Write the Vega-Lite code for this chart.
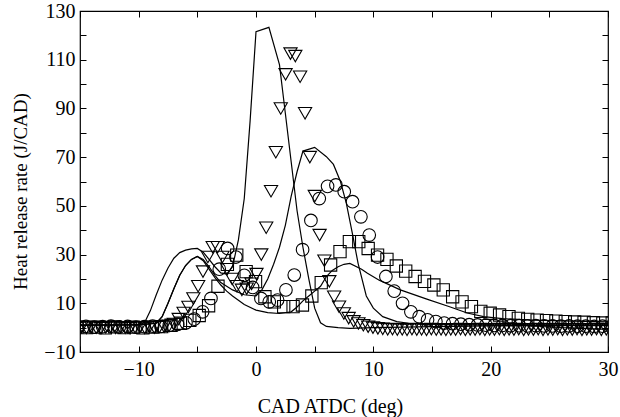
{
  "$schema": "https://vega.github.io/schema/vega-lite/v6.json",
  "width": 528,
  "height": 341,
  "autosize": {"type": "none"},
  "padding": {"left": 80, "top": 11, "right": 12, "bottom": 65},
  "background": "white",
  "config": {
    "view": {"stroke": "#000", "strokeWidth": 1.2},
    "font": "Liberation Serif",
    "axis": {
      "labelFont": "Liberation Serif", "titleFont": "Liberation Serif",
      "labelFontSize": 20, "titleFontSize": 20, "titleFontWeight": "normal",
      "labelColor": "#000", "titleColor": "#000", "tickColor": "#000", "tickWidth": 1,
      "grid": false, "domain": false, "labelFlush": false, "labelOverlap": false, "labelBound": false
    }
  },
  "datasets": {
    "lines": [
      {"s":"a","x":-15,"y":1.0},{"s":"a","x":-12,"y":1.1},{"s":"a","x":-10,"y":1.2},{"s":"a","x":-9.5,"y":2},{"s":"a","x":-9,"y":7},{"s":"a","x":-8.5,"y":13.5},{"s":"a","x":-8,"y":19.5},{"s":"a","x":-7.5,"y":24.5},{"s":"a","x":-7,"y":28.5},{"s":"a","x":-6.5,"y":30.8},{"s":"a","x":-6,"y":31.8},{"s":"a","x":-5.5,"y":32.3},{"s":"a","x":-5,"y":32.5},{"s":"a","x":-4.5,"y":31},{"s":"a","x":-4,"y":28},{"s":"a","x":-3.5,"y":25},{"s":"a","x":-3,"y":22.5},{"s":"a","x":-2.5,"y":22},{"s":"a","x":-2,"y":25},{"s":"a","x":-1.5,"y":36},{"s":"a","x":-1,"y":53},{"s":"a","x":-0.5,"y":85},{"s":"a","x":0,"y":121.5},{"s":"a","x":1.1,"y":123.3},{"s":"a","x":2,"y":108},{"s":"a","x":2.5,"y":88},{"s":"a","x":3,"y":68},{"s":"a","x":3.5,"y":48},{"s":"a","x":4,"y":33},{"s":"a","x":4.5,"y":20},{"s":"a","x":5,"y":8},{"s":"a","x":5.5,"y":2},{"s":"a","x":6,"y":0.5},{"s":"a","x":7,"y":0},{"s":"a","x":8,"y":-0.3},{"s":"a","x":10,"y":0},{"s":"a","x":15,"y":0.4},{"s":"a","x":20,"y":0.7},{"s":"a","x":30,"y":1.0},
      {"s":"b","x":-15,"y":1.0},{"s":"b","x":-10,"y":1.1},{"s":"b","x":-8.5,"y":1.8},{"s":"b","x":-8,"y":4.5},{"s":"b","x":-7.5,"y":10},{"s":"b","x":-7,"y":16},{"s":"b","x":-6.5,"y":21.5},{"s":"b","x":-6,"y":25.5},{"s":"b","x":-5.5,"y":28},{"s":"b","x":-5,"y":29.2},{"s":"b","x":-4.5,"y":28},{"s":"b","x":-4,"y":25},{"s":"b","x":-3.5,"y":21.5},{"s":"b","x":-3,"y":18.5},{"s":"b","x":-2,"y":15.5},{"s":"b","x":-1,"y":13.5},{"s":"b","x":0,"y":13},{"s":"b","x":0.5,"y":15.5},{"s":"b","x":1,"y":20},{"s":"b","x":1.5,"y":26},{"s":"b","x":2,"y":33},{"s":"b","x":2.5,"y":42},{"s":"b","x":3,"y":54},{"s":"b","x":3.5,"y":64},{"s":"b","x":4,"y":72.5},{"s":"b","x":5,"y":74},{"s":"b","x":6,"y":70.2},{"s":"b","x":6.6,"y":67},{"s":"b","x":7.2,"y":60},{"s":"b","x":7.7,"y":51},{"s":"b","x":8.2,"y":39},{"s":"b","x":8.7,"y":26.4},{"s":"b","x":9.4,"y":13},{"s":"b","x":10,"y":8},{"s":"b","x":10.8,"y":4.5},{"s":"b","x":12,"y":2.5},{"s":"b","x":13,"y":1.8},{"s":"b","x":15,"y":1.3},{"s":"b","x":20,"y":1.0},{"s":"b","x":30,"y":0.8},
      {"s":"c","x":-15,"y":1.0},{"s":"c","x":-10,"y":1.1},{"s":"c","x":-8.5,"y":1.8},{"s":"c","x":-8,"y":4.5},{"s":"c","x":-7.5,"y":10},{"s":"c","x":-7,"y":16},{"s":"c","x":-6.5,"y":21.5},{"s":"c","x":-6,"y":25.5},{"s":"c","x":-5.5,"y":28},{"s":"c","x":-5,"y":29.2},{"s":"c","x":-4.5,"y":27.5},{"s":"c","x":-4,"y":24},{"s":"c","x":-3.5,"y":20.5},{"s":"c","x":-3,"y":17.5},{"s":"c","x":-2.5,"y":15},{"s":"c","x":-2,"y":13},{"s":"c","x":-1,"y":9.5},{"s":"c","x":0,"y":7.2},{"s":"c","x":1,"y":6.2},{"s":"c","x":2,"y":5.8},{"s":"c","x":3,"y":6.5},{"s":"c","x":3.5,"y":8.5},{"s":"c","x":4,"y":11},{"s":"c","x":4.5,"y":13},{"s":"c","x":5,"y":15},{"s":"c","x":5.5,"y":17},{"s":"c","x":6,"y":21},{"s":"c","x":6.5,"y":23.5},{"s":"c","x":7,"y":25},{"s":"c","x":7.5,"y":26},{"s":"c","x":8,"y":26.4},{"s":"c","x":9,"y":24},{"s":"c","x":9.5,"y":22.3},{"s":"c","x":10.5,"y":19.5},{"s":"c","x":12.3,"y":15.5},{"s":"c","x":14.5,"y":11.8},{"s":"c","x":16.5,"y":8.6},{"s":"c","x":18,"y":6},{"s":"c","x":19.4,"y":4.5},{"s":"c","x":21,"y":3.7},{"s":"c","x":23.6,"y":3.1},{"s":"c","x":27,"y":2.7},{"s":"c","x":30,"y":2.4}
    ],
    "tri": [
      {"x":-14.87,"y":0.2},{"x":-14.45,"y":-0.1},{"x":-14.04,"y":0.3},{"x":-13.62,"y":0},{"x":-13.21,"y":-0.2},{"x":-12.8,"y":0.1},{"x":-12.38,"y":0.3},{"x":-11.97,"y":-0.1},{"x":-11.55,"y":0.2},{"x":-11.14,"y":0},{"x":-10.73,"y":-0.2},{"x":-10.31,"y":0.2},{"x":-9.9,"y":0.1},{"x":-9.48,"y":-0.1},{"x":-9.07,"y":0.3},{"x":-8.66,"y":0},{"x":-8.24,"y":0.2},{"x":-7.83,"y":0.4},{"x":-7.41,"y":0.8},{"x":-7.0,"y":1.5},{"x":-6.59,"y":3.5},{"x":-6.17,"y":6},{"x":-5.76,"y":8.5},{"x":-5.34,"y":12},{"x":-4.93,"y":17},{"x":-4.52,"y":23},{"x":-4.1,"y":29},{"x":-3.69,"y":33},{"x":-3.27,"y":33},{"x":-2.86,"y":29},{"x":-2.45,"y":24},{"x":-2.03,"y":20},{"x":-1.62,"y":17},{"x":-1.2,"y":15.5},{"x":-0.79,"y":16},{"x":-0.38,"y":18},{"x":0.04,"y":22},{"x":0.45,"y":30},{"x":0.87,"y":41},{"x":1.28,"y":56},{"x":1.69,"y":72},{"x":2.11,"y":90},{"x":2.52,"y":104},{"x":2.94,"y":112.5},{"x":3.35,"y":111.5},{"x":3.76,"y":103},{"x":4.18,"y":88},{"x":4.59,"y":70},{"x":5.01,"y":54},{"x":5.42,"y":38},{"x":5.83,"y":27.5},{"x":6.25,"y":19},{"x":6.66,"y":12.7},{"x":7.08,"y":8.6},{"x":7.49,"y":5.8},{"x":7.9,"y":3.9},{"x":8.32,"y":2.6},{"x":8.73,"y":1.7},{"x":9.15,"y":1.0},{"x":9.56,"y":0.4},{"x":9.97,"y":0},{"x":10.39,"y":-0.3},{"x":10.8,"y":-0.5},{"x":11.22,"y":-0.7},{"x":11.63,"y":-0.6},{"x":12.04,"y":-0.8},{"x":12.46,"y":-0.7},{"x":12.87,"y":-0.9},{"x":13.29,"y":-0.6},{"x":13.7,"y":-0.8},{"x":14.11,"y":-0.7},{"x":14.53,"y":-0.9},{"x":14.94,"y":-0.6},{"x":15.36,"y":-0.8},{"x":15.77,"y":-0.7},{"x":16.18,"y":-0.9},{"x":16.6,"y":-0.7},{"x":17.01,"y":-0.8},{"x":17.43,"y":-0.6},{"x":17.84,"y":-0.9},{"x":18.25,"y":-0.7},{"x":18.67,"y":-0.8},{"x":19.08,"y":-0.6},{"x":19.5,"y":-0.9},{"x":19.91,"y":-0.7},{"x":20.32,"y":-0.8},{"x":20.74,"y":-0.6},{"x":21.15,"y":-0.9},{"x":21.57,"y":-0.7},{"x":21.98,"y":-0.8},{"x":22.39,"y":-0.6},{"x":22.81,"y":-0.9},{"x":23.22,"y":-0.7},{"x":23.64,"y":-0.8},{"x":24.05,"y":-0.6},{"x":24.46,"y":-0.9},{"x":24.88,"y":-0.7},{"x":25.29,"y":-0.8},{"x":25.71,"y":-0.6},{"x":26.12,"y":-0.9},{"x":26.53,"y":-0.7},{"x":26.95,"y":-0.8},{"x":27.36,"y":-0.6},{"x":27.78,"y":-0.9},{"x":28.19,"y":-0.7},{"x":28.6,"y":-0.8},{"x":29.02,"y":-0.6},{"x":29.43,"y":-0.9},{"x":29.85,"y":-0.7}
    ],
    "cir": [
      {"x":-15.2,"y":0.3},{"x":-14.49,"y":0.5},{"x":-13.78,"y":0.2},{"x":-13.07,"y":0.4},{"x":-12.36,"y":0.6},{"x":-11.65,"y":0.3},{"x":-10.94,"y":0.5},{"x":-10.23,"y":0.2},{"x":-9.52,"y":0.4},{"x":-8.81,"y":0.6},{"x":-8.1,"y":0.5},{"x":-7.39,"y":0.9},{"x":-6.68,"y":1.3},{"x":-5.97,"y":2},{"x":-5.26,"y":3.5},{"x":-4.55,"y":6.5},{"x":-3.84,"y":12},{"x":-3.13,"y":24},{"x":-2.42,"y":32.5},{"x":-1.71,"y":29},{"x":-1.0,"y":21.5},{"x":-0.29,"y":16.5},{"x":0.42,"y":12},{"x":1.13,"y":10.6},{"x":1.84,"y":11.3},{"x":2.55,"y":15.5},{"x":3.26,"y":21.6},{"x":3.97,"y":32},{"x":4.68,"y":44},{"x":5.39,"y":53},{"x":6.1,"y":58},{"x":6.81,"y":58.6},{"x":7.52,"y":55.8},{"x":8.23,"y":51.7},{"x":8.94,"y":45.5},{"x":9.65,"y":38},{"x":10.36,"y":29},{"x":11.07,"y":21},{"x":11.78,"y":15},{"x":12.49,"y":10},{"x":13.2,"y":6.5},{"x":13.91,"y":4.5},{"x":14.62,"y":3.2},{"x":15.33,"y":2.5},{"x":16.04,"y":1.9},{"x":16.75,"y":1.6},{"x":17.46,"y":1.4},{"x":18.17,"y":1.2},{"x":18.88,"y":1.1},{"x":19.59,"y":1.0},{"x":20.3,"y":0.9},{"x":21.01,"y":0.9},{"x":21.72,"y":0.8},{"x":22.43,"y":0.8},{"x":23.14,"y":0.7},{"x":23.85,"y":0.8},{"x":24.56,"y":0.7},{"x":25.27,"y":0.7},{"x":25.98,"y":0.6},{"x":26.69,"y":0.7},{"x":27.4,"y":0.6},{"x":28.11,"y":0.6},{"x":28.82,"y":0.5},{"x":29.53,"y":0.6},{"x":30.24,"y":0.5}
    ],
    "sq": [
      {"x":-15.24,"y":0.3},{"x":-14.44,"y":0},{"x":-13.64,"y":0.2},{"x":-12.84,"y":-0.1},{"x":-12.04,"y":0.3},{"x":-11.24,"y":0},{"x":-10.44,"y":0.2},{"x":-9.64,"y":-0.1},{"x":-8.84,"y":0.2},{"x":-8.04,"y":0.4},{"x":-7.24,"y":1},{"x":-6.44,"y":1.8},{"x":-5.64,"y":3},{"x":-4.84,"y":5},{"x":-4.04,"y":9},{"x":-3.24,"y":17},{"x":-2.44,"y":26},{"x":-1.64,"y":29.8},{"x":-0.84,"y":23},{"x":-0.04,"y":18.9},{"x":0.76,"y":12.7},{"x":1.56,"y":10.6},{"x":2.36,"y":8.6},{"x":3.16,"y":8.6},{"x":3.96,"y":9.3},{"x":4.76,"y":13},{"x":5.56,"y":18.5},{"x":6.36,"y":25.7},{"x":7.16,"y":31.2},{"x":7.96,"y":35.3},{"x":8.76,"y":35.3},{"x":9.56,"y":32.5},{"x":10.36,"y":29.8},{"x":11.16,"y":28},{"x":11.96,"y":25.3},{"x":12.76,"y":23.2},{"x":13.56,"y":21},{"x":14.36,"y":19},{"x":15.16,"y":17.5},{"x":15.96,"y":15.5},{"x":16.76,"y":12.7},{"x":17.56,"y":10.6},{"x":18.36,"y":8.6},{"x":19.16,"y":6.7},{"x":19.96,"y":5.9},{"x":20.76,"y":5.2},{"x":21.56,"y":4.5},{"x":22.36,"y":3.8},{"x":23.16,"y":3.4},{"x":23.96,"y":3.1},{"x":24.76,"y":2.9},{"x":25.56,"y":2.7},{"x":26.36,"y":2.5},{"x":27.16,"y":2.3},{"x":27.96,"y":2.2},{"x":28.76,"y":2.0},{"x":29.56,"y":1.9},{"x":30.36,"y":1.9}
    ]
  },
  "layer": [
    {
      "data": {"name": "lines"},
      "mark": {"type": "line", "color": "#000", "strokeWidth": 1.2, "clip": true},
      "encoding": {
        "detail": {"field": "s", "type": "nominal"},
        "x": {"field": "x", "type": "quantitative",
          "scale": {"domain": [-15, 30], "nice": false, "zero": false},
          "axis": {"orient": "bottom", "values": [-15,-10,-5,0,5,10,15,20,25,30],
            "labelExpr": "datum.value % 10 == 0 ? datum.label : ''",
            "tickSize": -6, "labelPadding": 13,
            "title": "CAD ATDC (deg)", "titleX": 250, "titleY": 60, "titleBaseline": "alphabetic", "titleAlign": "center"}},
        "y": {"field": "y", "type": "quantitative",
          "scale": {"domain": [-10, 130], "nice": false, "zero": false},
          "axis": {"orient": "left", "values": [-10,0,10,20,30,40,50,60,70,80,90,100,110,120,130],
            "labelExpr": "(datum.value + 10) % 20 == 0 ? datum.label : ''",
            "tickSize": -6, "labelPadding": 11,
            "title": "Heat release rate (J/CAD)", "titleFontSize": 19, "titleX": -60, "titleY": 180, "titleAngle": -90, "titleBaseline": "middle", "titleAlign": "center"}}
      }
    },
    {
      "data": {"name": "tri"},
      "mark": {"type": "point", "shape": "triangle-down", "filled": false, "stroke": "#000", "strokeWidth": 1.1, "size": 175, "opacity": 1, "clip": true},
      "encoding": {
        "x": {"field": "x", "type": "quantitative",
          "axis": {"orient": "top", "values": [-15,-10,-5,0,5,10,15,20,25,30], "labels": false, "tickSize": -6, "title": null}},
        "y": {"field": "y", "type": "quantitative",
          "axis": {"orient": "right", "values": [-10,0,10,20,30,40,50,60,70,80,90,100,110,120,130], "labels": false, "tickSize": -6, "title": null}}
      }
    },
    {
      "data": {"name": "cir"},
      "mark": {"type": "point", "shape": "circle", "filled": false, "stroke": "#000", "strokeWidth": 1.1, "size": 160, "opacity": 1, "clip": true},
      "encoding": {
        "x": {"field": "x", "type": "quantitative", "axis": null},
        "y": {"field": "y", "type": "quantitative", "axis": null}
      }
    },
    {
      "data": {"name": "sq"},
      "mark": {"type": "point", "shape": "square", "filled": false, "stroke": "#000", "strokeWidth": 1.1, "size": 150, "opacity": 1, "clip": true},
      "encoding": {
        "x": {"field": "x", "type": "quantitative", "axis": null},
        "y": {"field": "y", "type": "quantitative", "axis": null}
      }
    }
  ],
  "resolve": {"axis": {"x": "independent", "y": "independent"}}
}
